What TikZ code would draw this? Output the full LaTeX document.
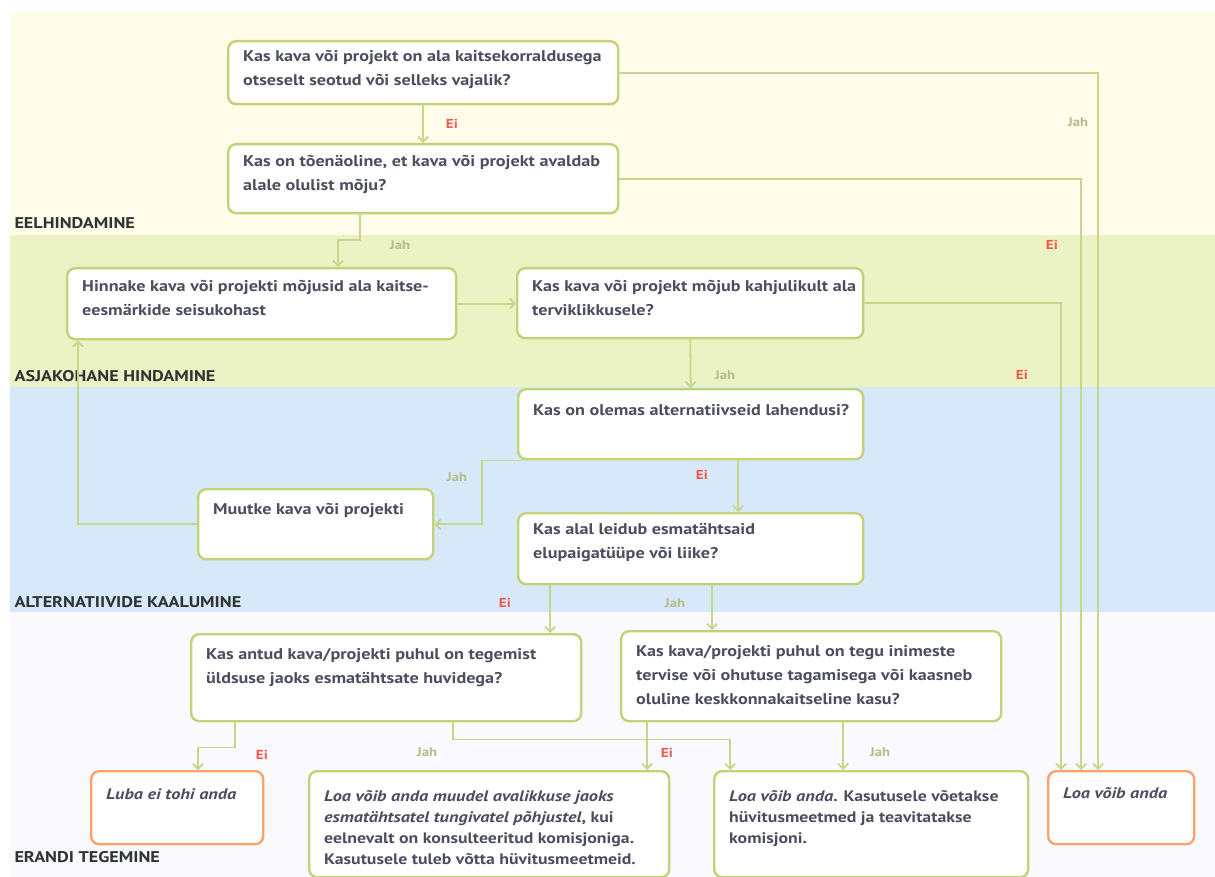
\documentclass[tikz,border=0pt]{standalone}
\usepackage{fontspec}
\setmainfont{PT Sans}[FakeStretch=1.17, BoldItalicFeatures={FakeStretch=1.2}]
\usetikzlibrary{arrows.meta}
\definecolor{cream}{HTML}{FFFDE9}
\definecolor{bandgreen}{HTML}{EBF3C4}
\definecolor{bandblue}{HTML}{D7E8F8}
\definecolor{bandlow}{HTML}{FAF9FD}
\definecolor{boxgreen}{HTML}{C2D377}
\definecolor{boxorange}{HTML}{F4A46C}
\definecolor{linegreen}{HTML}{C6D68A}
\definecolor{txtc}{HTML}{4B4E5E}
\definecolor{eired}{HTML}{EE5A4E}
\definecolor{jahc}{HTML}{B3BC8A}
\definecolor{bandlabel}{HTML}{2F3333}
\newcommand\bxt[4]{\parbox[c][#2pt][t]{#1pt}{\raggedright\rule{0pt}{#3pt}#4}}
\begin{document}
\begin{tikzpicture}[x=1pt,y=-1pt,
  qbox/.style={anchor=north west, inner xsep=15pt, inner ysep=0pt, draw=boxgreen,
    line width=2.4pt, rounded corners=8pt, fill=white, text=txtc,
    font=\fontsize{15.5}{24}\selectfont\bfseries},
  abox/.style={qbox, font=\fontsize{15.2}{21}\selectfont\bfseries},
  obox/.style={abox, draw=boxorange},
  conn/.style={draw=linegreen, line width=1.8pt, -{Straight Barb[length=5pt,width=10pt]}},
  eilab/.style={text=eired, font=\fontsize{13}{13}\selectfont\bfseries},
  jahlab/.style={text=jahc, font=\fontsize{12.5}{13}\selectfont\bfseries},
  bandlab/.style={anchor=west, text=bandlabel, font=\fontsize{15.5}{16}\selectfont\bfseries}]
\useasboundingbox (0,0) rectangle (1215,877);
\fill[white] (0,0) rectangle (1215,877);
\fill[cream] (10,12) rectangle (1215,235);
\fill[bandgreen] (10,235) rectangle (1215,387);
\fill[bandblue] (10,387) rectangle (1215,612);
\fill[bandlow] (10,612) rectangle (1215,877);
\node[bandlab] (l1) at (11,223) {EELHINDAMINE};
\node[bandlab] (l2) at (11,376) {ASJAKOHANE HINDAMINE};
\node[bandlab] (l3) at (11,602) {ALTERNATIIVIDE KAALUMINE};
\node[bandlab] (l4) at (11,857) {ERANDI TEGEMINE};
% boxes
\node[qbox] (q1) at (227,40) {\bxt{360}{63}{20}{\mbox{Kas kava või projekt on ala kaitsekorraldusega}\\\mbox{otseselt seotud või selleks vajalik?}}};
\node[qbox] (q2) at (227,143) {\bxt{360}{69}{22}{\mbox{Kas on tõenäoline, et kava või projekt avaldab}\\\mbox{alale olulist mõju?}}};
\node[qbox] (hin) at (66,267) {\bxt{359}{71}{23}{\mbox{Hinnake kava või projekti mõjusid ala kaitse-}\\\mbox{eesmärkide seisukohast}}};
\node[qbox] (q3) at (516,267) {\bxt{316}{70}{23}{\mbox{Kas kava või projekt mõjub kahjulikult ala}\\\mbox{terviklikkusele?}}};
\node[qbox] (q4) at (517,388) {\bxt{315}{70}{26}{\mbox{Kas on olemas alternatiivseid lahendusi?}}};
\node[qbox] (mu) at (197,488) {\bxt{205}{70}{25}{\mbox{Muutke kava või projekti}}};
\node[qbox] (q5) at (517,512) {\bxt{315}{71}{21}{\mbox{Kas alal leidub esmatähtsaid}\\\mbox{elupaigatüüpe või liike?}}};
\node[qbox] (q6) at (190,633) {\bxt{360}{87}{25}{\mbox{Kas antud kava/projekti puhul on tegemist}\\\mbox{üldsuse jaoks esmatähtsate huvidega?}}};
\node[qbox] (q7) at (620,630) {\bxt{350}{90}{25}{\mbox{Kas kava/projekti puhul on tegu inimeste}\\\mbox{tervise või ohutuse tagamisega või kaasneb}\\\mbox{oluline keskkonnakaitseline kasu?}}};
\node[abox] (lg) at (308,770) {\bxt{330}{106}{30}{\mbox{\textit{Loa võib anda muudel avalikkuse jaoks}}\\\mbox{\textit{esmatähtsatel tungivatel põhjustel}, kui}\\\mbox{eelnevalt on konsulteeritud komisjoniga.}\\\mbox{Kasutusele tuleb võtta hüvitusmeetmeid.}}};
\node[abox] (rg) at (713,770) {\bxt{284}{106}{30}{\mbox{\textit{Loa võib anda}. Kasutusele võetakse}\\\mbox{hüvitusmeetmed ja teavitatakse}\\\mbox{komisjoni.}}};
\node[obox] (luba) at (90,770) {\bxt{142}{73}{28}{\mbox{\textit{Luba ei tohi anda}}}};
\node[obox] (loa) at (1047,770) {\bxt{116}{73}{27}{\mbox{\textit{Loa võib anda}}}};
% connectors
\draw[conn] (q1.south) -- (q2.north);
\node[eilab] (e1) at (452,124) {Ei};
\draw[conn] (q1.east) -| ([xshift=-23pt]loa.north);
\node[jahlab] (j1) at (1078,122) {Jah};
\draw[conn] (q2.east) -| ([xshift=-40pt]loa.north);
\node[eilab] (e2) at (1052,245) {Ei};
\draw[conn] ([xshift=133pt]q2.south west) -- ++(0,26) -| ([xshift=272pt]hin.north west);
\node[jahlab] (j2) at (400,245) {Jah};
\draw[conn] (hin.east) -- (hin.east -| q3.west);
\draw[conn] (q3.east) -| ([xshift=-60pt]loa.north);
\node[eilab] (e3) at (1022,375) {Ei};
\draw[conn] (q3.south) -- (q4.north);
\node[jahlab] (j3) at (725,375) {Jah};
\draw[conn] ([xshift=221pt]q4.south west) -- ([xshift=221pt]q5.north west);
\node[eilab] (e4) at (702,475) {Ei};
\draw[conn] ([xshift=6pt]q4.south west) -- ++(-41,0) |- (mu.east);
\node[jahlab] (j4) at (457,477) {Jah};
\draw[conn] (mu.west) -| ([xshift=12pt]hin.south west);
\draw[conn] ([xshift=33pt]q5.south west) -- ([xshift=360pt]q6.north west);
\node[eilab] (e5) at (505,603) {Ei};
\draw[conn] ([xshift=195pt]q5.south west) -- ([xshift=92pt]q7.north west);
\node[jahlab] (j5) at (675,603) {Jah};
\draw[conn] ([xshift=45pt]q6.south west) -- ++(0,25) -| ([xshift=108pt]luba.north west);
\node[eilab] (e6) at (262,755) {Ei};
\draw[conn] ([xshift=263pt]q6.south west) -- ++(0,17) -| ([xshift=17pt]rg.north west);
\node[jahlab] (j6) at (427,752) {Jah};
\draw[conn] ([xshift=27pt]q7.south west) -- ([xshift=339pt]lg.north west);
\node[eilab] (e7) at (667,753) {Ei};
\draw[conn] ([xshift=223pt]q7.south west) -- ([xshift=130pt]rg.north west);
\node[jahlab] (j7) at (880,752) {Jah};
\end{tikzpicture}
\end{document}
